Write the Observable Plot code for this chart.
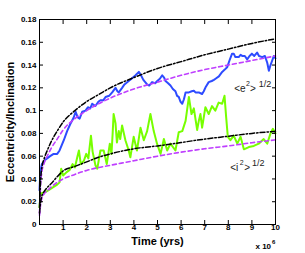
<!DOCTYPE html>
<html><head><meta charset="utf-8">
<script src="https://cdn.jsdelivr.net/npm/d3@7"></script>
<script src="https://cdn.jsdelivr.net/npm/@observablehq/plot@0.6"></script>
<style>body{margin:0;background:#fff;} svg{display:block}</style>
</head><body><div id="chart"></div>
<script>
const xTicks = [1,2,3,4,5,6,7,8,9,10];
const xTickLabels = ["1","2","3","4","5","6","7","8","9","10"];
const yTicks = [0,0.02,0.04,0.06,0.08,0.1,0.12,0.14,0.16,0.18];
const yTickLabels = ["0","0.02","0.04","0.06","0.08","0.1","0.12","0.14","0.16","0.18"];

// <e^2>^1/2 simulation (blue)
const eTime = [0,0.04,0.1,0.25,0.45,0.6,0.75,0.85,1.03,1.17,1.3,1.45,1.53,1.62,1.7,1.81,1.95,2.05,2.15,2.23,2.37,2.5,2.58,2.7,2.8,2.95,3.08,3.22,3.3,3.36,3.5,3.6,3.78,3.9,4.07,4.21,4.3,4.4,4.56,4.65,4.77,4.9,4.99,5.1,5.2,5.28,5.34,5.45,5.55,5.65,5.76,5.83,5.9,5.97,6.05,6.12,6.19,6.26,6.33,6.45,6.54,6.61,6.75,6.89,6.96,7.05,7.17,7.3,7.39,7.46,7.6,7.74,7.85,7.95,8.05,8.16,8.23,8.3,8.38,8.44,8.52,8.59,8.7,8.8,8.9,9.0,9.1,9.22,9.3,9.44,9.55,9.65,9.72,9.79,9.86,9.93,10];
const eRms = [0.030,0.047,0.053,0.057,0.060,0.062,0.062,0.065,0.074,0.082,0.088,0.094,0.099,0.094,0.093,0.099,0.100,0.103,0.102,0.106,0.104,0.108,0.109,0.109,0.112,0.113,0.116,0.120,0.117,0.116,0.120,0.123,0.126,0.128,0.131,0.134,0.131,0.127,0.123,0.122,0.125,0.124,0.126,0.128,0.131,0.129,0.126,0.124,0.122,0.119,0.117,0.113,0.112,0.108,0.106,0.110,0.116,0.116,0.116,0.117,0.1175,0.116,0.116,0.1146,0.117,0.121,0.125,0.126,0.127,0.128,0.130,0.134,0.136,0.138,0.144,0.150,0.150,0.147,0.147,0.147,0.149,0.148,0.148,0.145,0.148,0.150,0.148,0.151,0.148,0.147,0.148,0.142,0.135,0.140,0.144,0.148,0.146];

// <i^2>^1/2 simulation (green)
const iTime = [0,0.05,0.15,0.3,0.45,0.6,0.75,0.85,0.92,1.0,1.15,1.28,1.4,1.5,1.6,1.67,1.75,1.88,1.98,2.07,2.18,2.25,2.37,2.45,2.58,2.72,2.85,2.98,3.05,3.1,3.14,3.22,3.28,3.36,3.42,3.5,3.64,3.78,3.85,3.99,4.13,4.28,4.42,4.56,4.7,4.84,4.98,5.13,5.27,5.41,5.55,5.76,5.9,6.05,6.19,6.33,6.44,6.54,6.68,6.75,6.82,6.89,7.03,7.17,7.31,7.45,7.59,7.74,7.84,7.91,7.98,8.09,8.23,8.38,8.52,8.66,8.87,9.08,9.29,9.5,9.65,9.79,9.89,10];
const iRms = [0.015,0.027,0.028,0.029,0.031,0.033,0.035,0.037,0.049,0.043,0.046,0.048,0.053,0.050,0.059,0.065,0.053,0.056,0.062,0.058,0.078,0.064,0.052,0.049,0.065,0.065,0.053,0.071,0.062,0.080,0.097,0.089,0.072,0.082,0.075,0.087,0.074,0.065,0.059,0.077,0.065,0.085,0.074,0.082,0.097,0.082,0.071,0.062,0.075,0.065,0.071,0.065,0.081,0.082,0.091,0.112,0.097,0.102,0.083,0.091,0.097,0.085,0.103,0.097,0.104,0.100,0.107,0.106,0.113,0.094,0.077,0.074,0.078,0.071,0.077,0.066,0.068,0.069,0.071,0.075,0.071,0.080,0.084,0.080];

// smooth model curves
const fitTime = [0,0.05,0.1,0.2,0.35,0.5,0.75,1,1.5,2,2.5,3,4,5,6,7,8,9,10];
const eFitBlack   = [0.015,0.040,0.050,0.058,0.066,0.073,0.082,0.090,0.100,0.108,0.114,0.120,0.129,0.137,0.143,0.149,0.154,0.159,0.163];
const eFitMagenta = [0.010,0.036,0.046,0.054,0.061,0.067,0.075,0.083,0.093,0.100,0.106,0.111,0.119,0.125,0.131,0.136,0.140,0.144,0.148];
const iFitBlack   = [0.010,0.020,0.025,0.029,0.033,0.036,0.042,0.047,0.051,0.055,0.059,0.062,0.0665,0.069,0.072,0.075,0.0775,0.080,0.0818];
const iFitMagenta = [0.008,0.018,0.023,0.027,0.030,0.033,0.037,0.040,0.044,0.0475,0.050,0.052,0.056,0.060,0.0635,0.0665,0.069,0.0718,0.0743];

const rows = (xs, ys) => xs.map((t, i) => ({t, v: ys[i]}));

const blue = "#2d4bff", green = "#77ff00", magenta = "#bf3fff";
const dashDot = "5,2,1.5,2", dashed = "4,3";

const plot = Plot.plot({
  width: 305, height: 253,
  marginLeft: 39, marginRight: 30, marginTop: 19, marginBottom: 29,
  style: {background: "#fff", fontFamily: "'Liberation Sans', Arial, sans-serif", color: "#000"},
  x: {domain: [0, 10], axis: null},
  y: {domain: [0, 0.18], axis: null},
  marks: [
    Plot.line(rows(eTime, eRms), {x: "t", y: "v", stroke: blue, strokeWidth: 2, curve: "linear"}),
    Plot.line(rows(iTime, iRms), {x: "t", y: "v", stroke: green, strokeWidth: 2, curve: "linear"}),
    Plot.line(rows(fitTime, eFitMagenta), {x: "t", y: "v", stroke: magenta, strokeWidth: 1.6, strokeDasharray: dashed, curve: "monotone-x"}),
    Plot.line(rows(fitTime, iFitMagenta), {x: "t", y: "v", stroke: magenta, strokeWidth: 1.6, strokeDasharray: dashed, curve: "monotone-x"}),
    Plot.line(rows(fitTime, eFitBlack), {x: "t", y: "v", stroke: "#000", strokeWidth: 1.5, strokeDasharray: dashDot, curve: "monotone-x"}),
    Plot.line(rows(fitTime, iFitBlack), {x: "t", y: "v", stroke: "#000", strokeWidth: 1.5, strokeDasharray: dashDot, curve: "monotone-x"}),
    Plot.frame({stroke: "#000", strokeWidth: 1}),
    Plot.axisY({anchor: "left", ticks: yTicks, tickSize: -4, tickPadding: 7, label: null,
      tickFormat: d => yTickLabels[yTicks.indexOf(d)], fontSize: 8, fontWeight: "bold"}),
    Plot.axisY({anchor: "right", ticks: yTicks, tickSize: -4, label: null, tickFormat: () => ""}),
    Plot.axisX({anchor: "bottom", ticks: xTicks, tickSize: -4, tickPadding: 4, label: null,
      tickFormat: d => xTickLabels[xTicks.indexOf(d)], fontSize: 8, fontWeight: "bold"}),
    Plot.axisX({anchor: "top", ticks: xTicks, tickSize: -4, label: null, tickFormat: () => ""}),
    Plot.text(["Time (yrs)"], {frameAnchor: "bottom", dy: 17, textAnchor: "middle", lineAnchor: "middle", fontSize: 11, fontWeight: "bold"}),
    Plot.text(["Eccentricity/Inclination"], {frameAnchor: "left", dx: -29, rotate: -90, textAnchor: "middle", lineAnchor: "middle", fontSize: 11, fontWeight: "bold"}),
    Plot.text(["x 106"], {frameAnchor: "bottom-right", dx: -20, dy: 21.5, textAnchor: "start", lineAnchor: "middle", fontSize: 8, fontWeight: "bold"}),
    Plot.text(["<e2>1/2"], {x: 8.25, y: 0.119, textAnchor: "start", lineAnchor: "middle", fontSize: 10, fill: "#222"}),
    Plot.text(["<i2>1/2"], {x: 8.08, y: 0.05, textAnchor: "start", lineAnchor: "middle", fontSize: 10, fill: "#222"})
  ]
});

function superscript(el, parts) {
  el.textContent = "";
  parts.forEach(([s, dy, size, dx]) => {
    const ts = document.createElementNS("http://www.w3.org/2000/svg", "tspan");
    ts.textContent = s;
    if (dy) ts.setAttribute("dy", dy);
    if (dx) ts.setAttribute("dx", dx);
    if (size) ts.setAttribute("font-size", size);
    el.appendChild(ts);
  });
}
plot.querySelectorAll("text").forEach(el => {
  const s = el.textContent;
  if (s === "<e2>1/2") superscript(el, [["<e"], ["2", -6, 7, 0.5], [">", 6, 10], ["1/2", -5, 9, 3]]);
  else if (s === "<i2>1/2") superscript(el, [["<i"], ["2", -6, 7, 1.5], [">", 6, 10, 0.5], ["1/2", -5, 9, 2]]);
  else if (s === "x 106") superscript(el, [["x 10"], ["6", -5, 6, 1]]);
});

document.getElementById("chart").appendChild(plot);
</script>
</body></html>
